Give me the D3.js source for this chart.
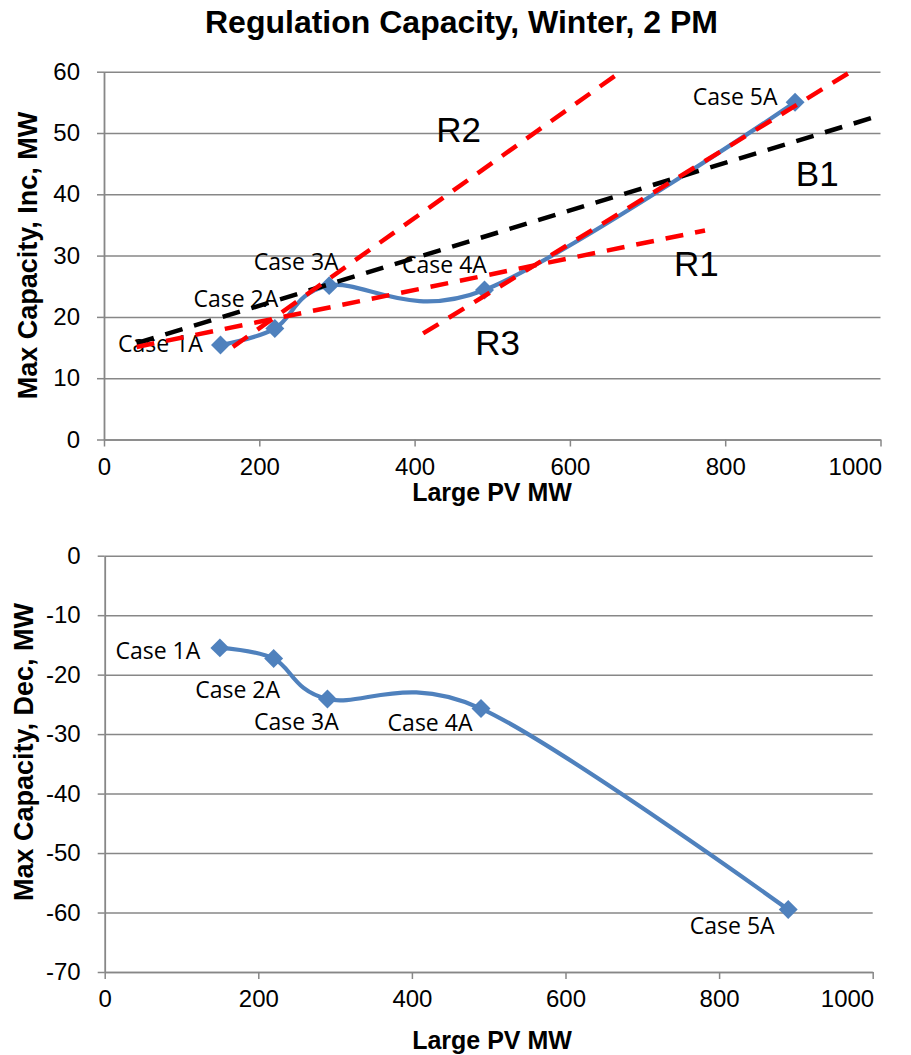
<!DOCTYPE html>
<html>
<head>
<meta charset="utf-8">
<script src="https://cdn.jsdelivr.net/npm/d3@7"></script>
<style>
  html, body { margin: 0; padding: 0; background: #fff; }
  svg { display: block; }
</style>
</head>
<body>
<div id="chart"></div>
<script>
// ---------- data ----------
const pvMW = [150, 220, 290, 490, 890];
const caseNames = ["Case 1A", "Case 2A", "Case 3A", "Case 4A", "Case 5A"];
const incCapacity = [15.4, 18.1, 25.1, 24.4, 55.0];
const decCapacity = [-15.5, -17.3, -24.1, -25.7, -59.5];

const xTickValues = [0, 200, 400, 600, 800, 1000];
const incTickValues = [0, 10, 20, 30, 40, 50, 60];
const decTickValues = [0, -10, -20, -30, -40, -50, -60, -70];

// fitted tangent / trend lines on the upper chart
const trendNames = ["B1", "R1", "R2", "R3"];
const trendStartX = [42, 42, 166, 411];
const trendStartY = [15.7, 15.1, 15.1, 17.3];
const trendEndX = [995, 774, 660, 958];
const trendEndY = [52.7, 34.1, 59.5, 59.7];
// where each trend line name is written (data units)
const trendLabelX = [891, 734, 428, 478];
const trendLabelY = [41.4, 26.6, 48.6, 13.8];

// ---------- layout ----------
const W = 911, H = 1055;
const svg = d3.select("#chart").append("svg").attr("width", W).attr("height", H);

const GRID = "#878787";
const BLUE = "#4f81bd";
const SANS = '"Liberation Sans", Arial, sans-serif';
const fmt = d => String(d);

svg.append("text")
  .attr("x", 461.5).attr("y", 33)
  .attr("text-anchor", "middle")
  .style("font-family", SANS)
  .style("font-weight", "bold").style("font-size", "32px")
  .text("Regulation Capacity, Winter, 2 PM");

// label offsets (px) relative to the marker, text-anchor middle / baseline
const incLabelOffsets = [[-60, 7], [-39, -22], [-33, -16], [-40, -17], [-60, 3]];
const decLabelOffsets = [[-62, 11], [-36, 39], [-31, 31], [-51, 22], [-56, 24]];

function styleTicks(s) {
  s.selectAll(".tick text")
    .style("font-family", SANS)
    .style("font-size", "24px")
    .attr("fill", "#000");
}

function panel(opts) {
  const { x, y, yTicks, values, labelOffsets, yTitle, yTitleCenter, yTitleX, xTitleY } = opts;
  const g = svg.append("g");
  const [x0, x1] = x.range();

  // gridlines
  g.append("g")
    .attr("transform", `translate(${x0},0)`)
    .call(d3.axisLeft(y).tickValues(yTicks).tickSize(-(x1 - x0)).tickFormat(""))
    .call(s => s.select(".domain").remove())
    .call(s => s.selectAll("line").attr("stroke", GRID).attr("stroke-width", 1.5));

  // y axis with outside ticks and labels
  g.append("g")
    .attr("transform", `translate(${x0},0)`)
    .call(d3.axisLeft(y).tickValues(yTicks).tickSize(7).tickSizeOuter(0).tickPadding(17).tickFormat(fmt))
    .call(s => s.select(".domain").attr("stroke", GRID).attr("stroke-width", 1.8))
    .call(s => s.selectAll("line").attr("stroke", GRID).attr("stroke-width", 1.5))
    .call(styleTicks);

  // x axis
  const yb = y.range()[0];
  g.append("g")
    .attr("transform", `translate(0,${yb})`)
    .call(d3.axisBottom(x).tickValues(xTickValues).tickSize(7).tickSizeOuter(0).tickPadding(11).tickFormat(fmt))
    .call(s => s.select(".domain").attr("stroke", GRID).attr("stroke-width", 1.5))
    .call(s => s.selectAll("line").attr("stroke", GRID).attr("stroke-width", 1.5))
    .call(styleTicks)
    // the last label is kept inside the chart, right-aligned on its tick
    .call(s => s.selectAll(".tick text").filter(d => d === d3.max(xTickValues))
      .attr("text-anchor", "end").attr("x", 1));

  // axis titles
  g.append("text")
    .attr("transform", `translate(${yTitleX},${yTitleCenter}) rotate(-90)`)
    .attr("text-anchor", "middle")
    .style("font-family", SANS)
    .style("font-weight", "bold").style("font-size", "27px")
    .text(yTitle);
  g.append("text")
    .attr("x", 492).attr("y", xTitleY)
    .attr("text-anchor", "middle")
    .style("font-family", SANS)
    .style("font-weight", "bold").style("font-size", "25px")
    .text("Large PV MW");

  const pts = pvMW.map((v, i) => [v, values[i]]);
  const line = d3.line()
    .x(d => x(d[0])).y(d => y(d[1]))
    .curve(d3.curveCardinal.tension(0));
  g.append("path")
    .attr("d", line(pts))
    .attr("fill", "none").attr("stroke", BLUE).attr("stroke-width", 4.2)
    .attr("stroke-linejoin", "round").attr("stroke-linecap", "round");

  const sym = d3.symbol(d3.symbolSquare, 180);
  g.selectAll("path.mk").data(pts).enter().append("path")
    .attr("class", "mk")
    .attr("d", sym)
    .attr("transform", d => `translate(${x(d[0])},${y(d[1])}) rotate(45)`)
    .attr("fill", BLUE);

  g.selectAll("text.lbl").data(pts).enter().append("text")
    .attr("class", "lbl")
    .attr("x", (d, i) => x(d[0]) + labelOffsets[i][0])
    .attr("y", (d, i) => y(d[1]) + labelOffsets[i][1])
    .attr("text-anchor", "middle")
    .style("font-family", '"Open Sans", "Noto Sans", sans-serif')
    .style("font-size", "23px")
    .text((d, i) => caseNames[i]);
  return g;
}

const xTop = d3.scaleLinear().domain([0, 1000]).range([104, 880.5]);
const yTop = d3.scaleLinear().domain([0, 60]).range([439.5, 71.7]);
const gTop = panel({
  x: xTop, y: yTop, yTicks: incTickValues, values: incCapacity,
  labelOffsets: incLabelOffsets,
  yTitle: "Max Capacity, Inc, MW", yTitleCenter: 255.5, yTitleX: 37, xTitleY: 501
});

// trend lines over the upper chart
const trendColor = name => name.startsWith("B") ? "#000000" : "#ff0000";
trendNames.forEach((name, i) => {
  gTop.append("line")
    .attr("x1", xTop(trendStartX[i])).attr("y1", yTop(trendStartY[i]))
    .attr("x2", xTop(trendEndX[i])).attr("y2", yTop(trendEndY[i]))
    .attr("stroke", trendColor(name)).attr("stroke-width", 4.5)
    .attr("stroke-dasharray", "18,12");
});
trendNames.forEach((name, i) => {
  gTop.append("text")
    .attr("x", xTop(trendLabelX[i])).attr("y", yTop(trendLabelY[i]))
    .style("font-family", SANS)
    .style("font-size", "35px")
    .text(name);
});

const xBot = d3.scaleLinear().domain([0, 1000]).range([104.7, 872.7]);
const yBot = d3.scaleLinear().domain([-70, 0]).range([972, 555.7]);
panel({
  x: xBot, y: yBot, yTicks: decTickValues, values: decCapacity,
  labelOffsets: decLabelOffsets,
  yTitle: "Max Capacity, Dec, MW", yTitleCenter: 752, yTitleX: 33, xTitleY: 1049
});
</script>
</body>
</html>
